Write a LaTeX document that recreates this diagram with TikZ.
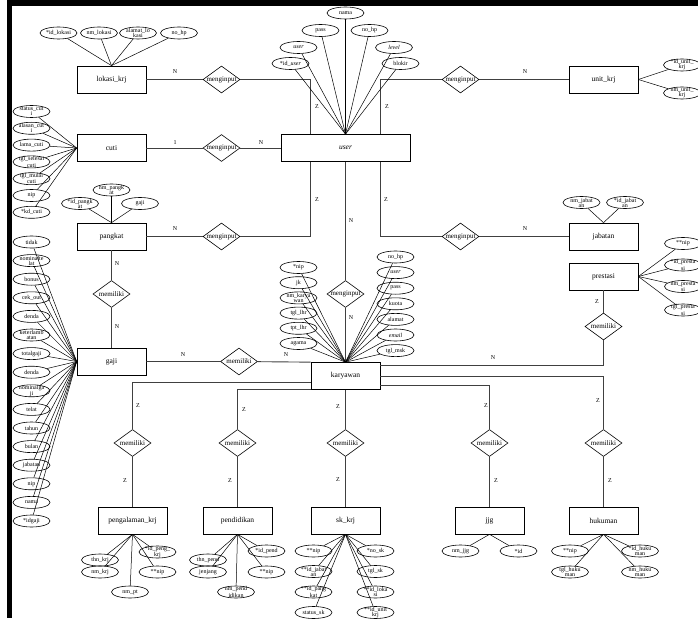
\documentclass[tikz,border=0pt]{standalone}
\usepackage{fontspec}
\setmainfont{Liberation Serif}
\usetikzlibrary{shapes.geometric}

\tikzset{
  entity/.style={draw, line width=0.7pt, minimum width=69pt, minimum height=27pt,
    inner sep=0pt, font=\fontsize{7.5}{8}\selectfont},
  attr/.style={draw, ellipse, line width=0.6pt, minimum width=37pt, minimum height=12pt,
    inner sep=-2pt, align=center, font=\fontsize{6}{5}\selectfont},
  rel/.style={draw, diamond, line width=0.6pt, minimum width=37pt, minimum height=27pt,
    inner sep=-4pt, font=\fontsize{7}{7}\selectfont},
  card/.style={inner sep=0pt, font=\fontsize{6}{6}\selectfont},
  conn/.style={line width=0.9pt, black!75},
  link/.style={line width=0.5pt}
}

\begin{document}
\begin{tikzpicture}[x=1pt,y=-1pt]
    \useasboundingbox (0,0) rectangle (698,620);
    % frame
    \fill (7,0) rectangle (698,6);
    \fill (7,0) rectangle (12,618);

    % entities
    \node[entity] (lokasi) at (111.5,79.5) {lokasi\_krj};
    \node[entity] (cuti) at (111.5,148) {cuti};
    \node[entity] (pangkat) at (111.5,236.5) {pangkat};
    \node[entity] (gaji) at (111.5,361.5) {gaji};
    \node[entity, minimum width=129pt] (user) at (345.5,148) {\textit{user}};
    \node[entity] (karyawan) at (345.5,376) {karyawan};
    \node[entity] (unit) at (603.5,79.5) {unit\_krj};
    \node[entity] (jabatan) at (603.5,236.5) {jabatan};
    \node[entity] (prestasi) at (603.5,276.5) {prestasi};
    \node[entity] (pengalaman) at (132.5,520.5) {pengalaman\_krj};
    \node[entity] (pendidikan) at (237.5,520.5) {pendidikan};
    \node[entity] (sk) at (345.5,520.5) {sk\_krj};
    \node[entity] (jjg) at (489.5,520.5) {jjg};
    \node[entity] (hukuman) at (603.5,520.5) {hukuman};

    % relationships
    \node[rel] (inLokasi) at (221.5,79.5) {menginput};
    \node[rel] (inCuti) at (221.5,148) {menginput};
    \node[rel] (inPangkat) at (221.5,236.5) {menginput};
    \node[rel] (inUnit) at (460.5,79.5) {menginput};
    \node[rel] (inJabatan) at (460.5,236.5) {menginput};
    \node[rel] (inKaryawan) at (345.5,294) {menginput};
    \node[rel] (hasPangkat) at (111.5,294) {memiliki};
    \node[rel] (hasGaji) at (239,361.5) {memiliki};
    \node[rel] (hasPrestasi) at (603.5,326.5) {memiliki};
    \node[rel] (hasPeng) at (132.5,443) {memiliki};
    \node[rel] (hasPend) at (237.5,443) {memiliki};
    \node[rel] (hasSk) at (345.5,443) {memiliki};
    \node[rel] (hasJjg) at (489.5,443) {memiliki};
    \node[rel] (hasHuk) at (603.5,443) {memiliki};

    % connectors around user
    \draw[conn] (lokasi) -- (inLokasi);
    \draw[conn] (inLokasi.east) -| ([xshift=30pt]user.north west);
    \draw[conn] (cuti) -- (inCuti) -- (user);
    \draw[conn] (pangkat) -- (inPangkat);
    \draw[conn] (inPangkat.east) -| ([xshift=30pt]user.south west);
    \draw[conn] (unit) -- (inUnit);
    \draw[conn] (inUnit.west) -| ([xshift=-30pt]user.north east);
    \draw[conn] (jabatan) -- (inJabatan);
    \draw[conn] (inJabatan.west) -| ([xshift=-30pt]user.south east);
    \draw[conn] (user) -- (inKaryawan) -- (karyawan);

    % connectors around karyawan
    \draw[conn] (pangkat) -- (hasPangkat) -- (gaji);
    \draw[conn] (gaji) -- (hasGaji) -- (karyawan.north west);
    \draw[conn] (prestasi) -- (hasPrestasi);
    \draw[conn] ([yshift=11pt]karyawan.east) -| (hasPrestasi.south);
    \draw[conn] ([yshift=-6pt]karyawan.west) -| (hasPeng.north);
    \draw[conn] (karyawan.south west) -| (hasPend.north);
    \draw[conn] (karyawan) -- (hasSk);
    \draw[conn] ([yshift=-9pt]karyawan.east) -| (hasJjg.north);
    \draw[conn] (karyawan.east) -| (hasHuk.north);
    \draw[conn] (hasPeng) -- (pengalaman);
    \draw[conn] (hasPend) -- (pendidikan);
    \draw[conn] (hasSk) -- (sk);
    \draw[conn] (hasJjg) -- (jjg);
    \draw[conn] (hasHuk) -- (hukuman);

    % cardinalities
    \foreach \x/\y/\t [count=\i] in {175/72/N, 317/107/Z, 387/107/Z, 525/72/N,
        175/143/1, 261/143/N, 175/229/N, 317/200/Z, 386/200/Z, 525/229/N,
        351/221/N, 351/318/N, 117/264/N, 117/327/N, 183/355/N, 286/355/N,
        597/302/Z, 493/358/N, 138/406/Z, 125/481/Z, 244/410/Z, 230/481/Z,
        338/407/Z, 338/480/Z, 486/406/Z, 496/481/Z, 598/401/Z, 610/481/Z}
        \node[card] (card\i) at (\x,\y) {\t};

    % attributes of lokasi_krj
    \foreach \x/\t [count=\i] in {58.5/{*id\_lokasi}, 99/nm\_lokasi,
        138/{alamat\_lo\\kasi}, 179/no\_hp} {
        \node[attr] (lokA\i) at (\x,33) {\t};
        \draw[link] (lokA\i) -- (lokasi.north);
    }
    % attributes of user
    \foreach \x/\y/\t [count=\i] in {345.5/13/nama, 320.5/30.5/pass, 369.5/30.5/no\_hp,
        298.5/47.5/{\textit{user}}, 394/47.5/{\textit{level}},
        290.5/63.5/{*id\_\textit{user}}, 400.5/63.5/blokir} {
        \node[attr] (userA\i) at (\x,\y) {\t};
        \draw[link] (userA\i) -- (user.north);
    }
    % attributes of unit_krj
    \foreach \y/\t [count=\i] in {65/{*id\_unit\_\\krj}, 93/{nm\_unit\_\\krj}} {
        \node[attr] (unitA\i) at (682,\y) {\t};
        \draw[link] (unitA\i) -- (unit.east);
    }
    % attributes of cuti
    \foreach \t [count=\i] in {{status\_cut\\i}, {alasan\_cut\\i}, lama\_cuti,
        {tgl\_selesai\\cuti}, {tgl\_mulai\\cuti}, nip, *kd\_cuti} {
        \node[attr] (cutiA\i) at (31.5,{111.5+16.8*(\i-1)}) {\t};
        \draw[link] (cutiA\i) -- (cuti.west);
    }
    % attributes of pangkat
    \foreach \x/\y/\t [count=\i] in {80/203.5/{*id\_pangk\\at},
        111.5/190/{nm\_pangk\\at}, 140/203.5/gaji} {
        \node[attr] (pangA\i) at (\x,\y) {\t};
        \draw[link] (pangA\i) -- (pangkat.north);
    }
    % attributes of gaji
    \foreach \t [count=\i] in {tidak, {nominalte\\lat}, bonus, cek\_out, denda,
        {keterlamb\\atan}, totalgaji, denda, {nominalga\\ji}, telat, tahun, bulan,
        jabatan, nip, nama, *idgaji} {
        \node[attr] (gajiA\i) at (31.5,{242+18.6*(\i-1)}) {\t};
        \draw[link] (gajiA\i) -- (gaji.west);
    }
    % attributes of karyawan
    \foreach \t [count=\i] in {*nip, jk, {nm\_karya\\wan}, tgl\_lhr, tpt\_lhr, agama} {
        \node[attr] (karL\i) at (298.5,{267.5+15.2*(\i-1)}) {\t};
        \draw[link] (karL\i) -- (karyawan.north);
    }
    \foreach \t [count=\i] in {no\_hp, {\textit{user}}, pass, kuota, alamat,
        {\textit{email}}, tgl\_msk} {
        \node[attr] (karR\i) at (395.5,{257+15.6*(\i-1)}) {\t};
        \draw[link] (karR\i) -- (karyawan.north);
    }
    % attributes of jabatan and prestasi
    \foreach \x/\t [count=\i] in {581.5/{nm\_jabat\\an}, 625/{*id\_jabat\\an}} {
        \node[attr] (jabA\i) at (\x,202.5) {\t};
        \draw[link] (jabA\i) -- (jabatan.north);
    }
    \foreach \y/\t [count=\i] in {243.5/{**nip}, 265/{*id\_presta\\si},
        286.5/{nm\_presta\\si}, 310/{tgl\_presta\\si}} {
        \node[attr] (presA\i) at (683,\y) {\t};
        \draw[link] (presA\i) -- (prestasi.east);
    }
    % attributes of the lower entities
    \foreach \x/\y/\t [count=\i] in {100/560/thn\_krj, 100/572/nm\_krj,
        157.5/552/{*id\_peng\_\\krj}, 157.5/572/{**nip}, 130/592/nm\_pt} {
        \node[attr] (pengA\i) at (\x,\y) {\t};
        \draw[link] (pengA\i) -- (pengalaman.south);
    }
    \foreach \x/\y/\t [count=\i] in {208/560/thn\_pend, 208/572/jenjang,
        266.5/551/{*id\_pend}, 266.5/572/{**nip}, 236/592/{nm\_pend\\idikan}} {
        \node[attr] (pendA\i) at (\x,\y) {\t};
        \draw[link] (pendA\i) -- (pendidikan.south);
    }
    \foreach \x/\y/\t [count=\i] in {313.5/551/{**nip}, 313.5/571.5/{**id\_jabat\\an},
        313.5/592/{**id\_pang\\kat}, 313.5/612.5/status\_sk,
        375.5/551/{*no\_sk}, 375.5/571.5/tgl\_sk,
        375.5/592/{**id\_loka\\si}, 375.5/612.5/{**id\_unit\\krj}} {
        \node[attr] (skA\i) at (\x,\y) {\t};
        \draw[link] (skA\i) -- (sk.south);
    }
    \foreach \x/\t [count=\i] in {460.5/nm\_jjg, 518.5/{*id}} {
        \node[attr] (jjgA\i) at (\x,551) {\t};
        \draw[link] (jjgA\i) -- (jjg.south);
    }
    \foreach \x/\y/\t [count=\i] in {570/551/{**nip}, 570/572/{tgl\_huku\\man},
        640/551/{*id\_huku\\man}, 640/572/{nm\_huku\\man}} {
        \node[attr] (hukA\i) at (\x,\y) {\t};
        \draw[link] (hukA\i) -- (hukuman.south);
    }
\end{tikzpicture}
\end{document}
